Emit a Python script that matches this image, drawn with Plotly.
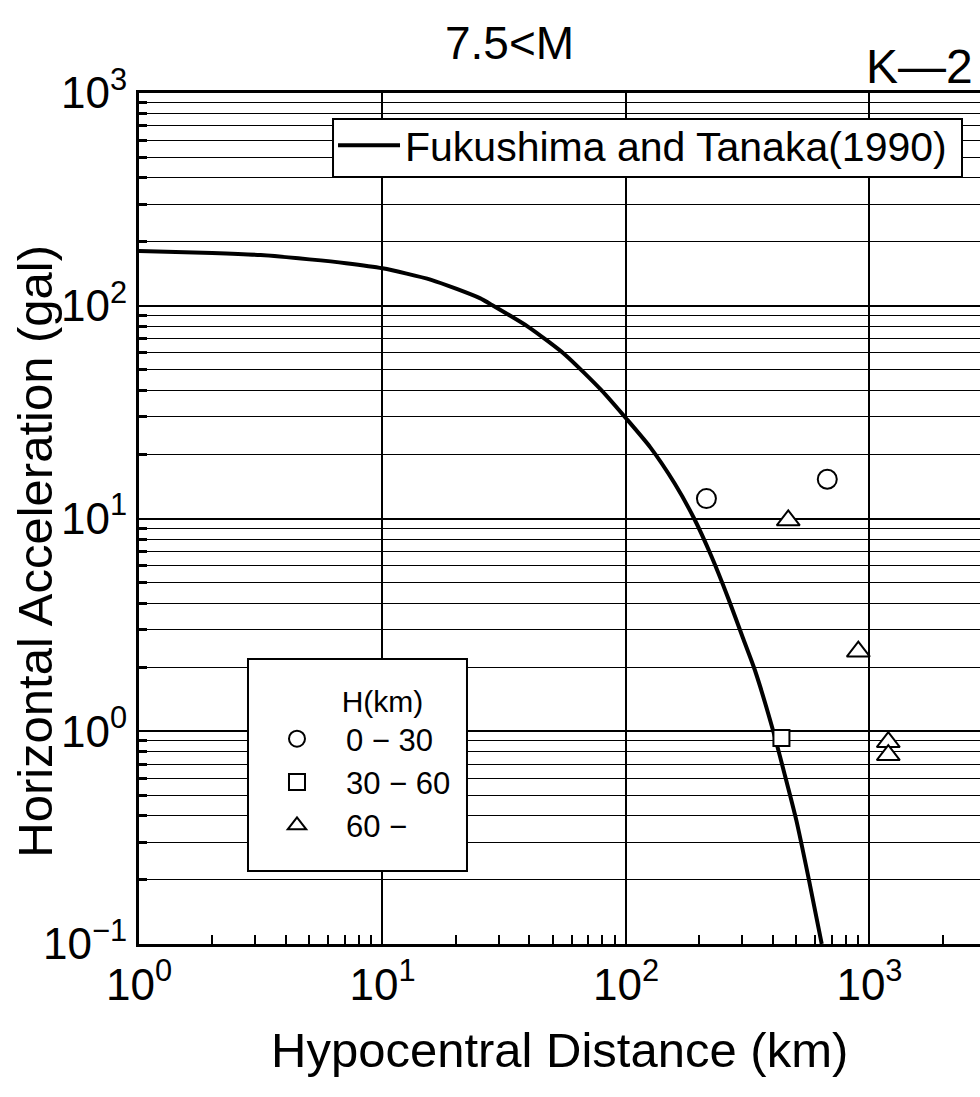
import plotly.graph_objects as go

# ---- data ----
curve_r = [1, 2, 3.16, 5.01, 7.08, 10, 15.85, 25.1, 28.5, 39.8, 56.2, 79.4, 100, 125.9,
           158.5, 190.5, 223.9, 263, 302, 338.8, 402.7, 446.7, 501.2, 562.3, 636.8]
curve_a = [181, 177, 173, 165.2, 158.5, 150, 132.4, 108.6, 100, 79.4, 58.9, 40, 29.6, 21.6,
           14.6, 10, 6.68, 4.22, 2.75, 1.93, 1, 0.638, 0.38, 0.204, 0.1]

circle_r = [214, 671]
circle_a = [12.4, 15.3]
square_r = [435]
square_a = [0.93]
tri_r = [464, 900, 1195, 1195]
tri_a = [9.8, 2.37, 0.89, 0.773]

y_tickvals = [0.1, 1, 10, 100, 1000]
y_ticktext = ["10<sup>−1</sup>", "10<sup>0</sup>", "10<sup>1</sup>", "10<sup>2</sup>", "10<sup>3</sup>"]
x_tickvals = [1, 10, 100, 1000]
x_ticktext = ["10<sup>0</sup>", "10<sup>1</sup>", "10<sup>2</sup>", "10<sup>3</sup>"]

curve_name = "Fukushima and Tanaka(1990)"
group_names = ["0 − 30", "30 − 60", "60 −"]
legend2_title = "H(km)"
title_text = "7.5&lt;M"
tag_text = "K—2"
xlabel = "Hypocentral Distance (km)"
ylabel = "Horizontal Acceleration (gal)"

FONT = "Liberation Sans, Arial, sans-serif"

y_minor = [m * 10 ** e for e in range(-1, 3) for m in range(2, 10)]
x_minor = [m * 10 ** e for e in range(0, 4) for m in range(2, 10) if m * 10 ** e < 2800]

fig = go.Figure()
fig.add_trace(go.Scatter(
    x=curve_r, y=curve_a, mode="lines", name=curve_name,
    line=dict(color="black", width=4, shape="spline", smoothing=0.6),
    legend="legend",
))
mk = dict(color="white", line=dict(color="black", width=2))
fig.add_trace(go.Scatter(x=circle_r, y=circle_a, mode="markers", name=group_names[0],
                         marker=dict(symbol="circle", size=19, **mk), legend="legend2"))
fig.add_trace(go.Scatter(x=square_r, y=square_a, mode="markers", name=group_names[1],
                         marker=dict(symbol="square", size=16, **mk), legend="legend2"))
fig.add_trace(go.Scatter(x=tri_r, y=tri_a, mode="markers", name=group_names[2],
                         marker=dict(symbol="triangle-up", size=20, **mk), legend="legend2"))

# legend frames (white boxes covering the grid; no data lies under them)
frame = dict(type="rect", xref="paper", yref="paper", layer="above",
             fillcolor="white", line=dict(color="black", width=2))
shapes = [
    dict(frame, x0=0.2307, x1=0.9786, y0=0.9013, y1=0.9694),
    dict(frame, x0=0.1296, x1=0.3900, y0=0.0858, y1=0.3349),
]

fig.update_layout(
    width=980, height=1097,
    margin=dict(l=139, r=0, t=93, b=153),
    paper_bgcolor="white", plot_bgcolor="white",
    font=dict(family=FONT, color="black"),
    showlegend=True,
    shapes=shapes,
    legend=dict(
        x=0.2307, y=0.9777, xanchor="left", yanchor="top",
        bgcolor="rgba(0,0,0,0)", borderwidth=0,
        font=dict(size=41, family=FONT), itemwidth=62,
    ),
    legend2=dict(
        x=0.1296, y=0.3184, xanchor="left", yanchor="top",
        bgcolor="rgba(0,0,0,0)", borderwidth=0,
        font=dict(size=31, family=FONT), itemwidth=88,
        title=dict(text="&nbsp;" * 11 + legend2_title, side="top", font=dict(size=30, family=FONT)),
    ),
    xaxis=dict(
        type="log", range=[0, 3.454],
        tickmode="array", tickvals=x_tickvals, ticktext=x_ticktext,
        tickfont=dict(size=44, family=FONT),
        showgrid=True, gridcolor="black", gridwidth=1.5,
        showline=True, linecolor="black", linewidth=3, mirror=True,
        ticks="", zeroline=False,
        minor=dict(tickmode="array", tickvals=x_minor, ticks="inside", ticklen=9,
                   tickwidth=2, tickcolor="black", showgrid=False),
    ),
    yaxis=dict(
        type="log", range=[-1, 3],
        tickmode="array", tickvals=y_tickvals, ticktext=y_ticktext,
        tickfont=dict(size=44, family=FONT),
        showgrid=True, gridcolor="black", gridwidth=2,
        showline=True, linecolor="black", linewidth=3, mirror=False,
        ticks="", zeroline=False,
        minor=dict(tickmode="array", tickvals=y_minor, ticks="inside", ticklen=8,
                   tickwidth=3, tickcolor="black", showgrid=True,
                   gridcolor="black", gridwidth=1.3),
    ),
    annotations=[
        dict(text=title_text, xref="paper", yref="paper", x=0.441, y=1.0588,
             xanchor="center", yanchor="middle", showarrow=False,
             font=dict(size=46, family=FONT)),
        dict(text=tag_text, xref="paper", yref="paper", x=0.994, y=1.0306,
             xanchor="right", yanchor="middle", showarrow=False,
             font=dict(size=48, family=FONT)),
        dict(text=xlabel, xref="paper", yref="paper", x=0.5, y=-0.1246,
             xanchor="center", yanchor="middle", showarrow=False,
             font=dict(size=49, family=FONT)),
        dict(text=ylabel, xref="paper", yref="paper", x=-0.124, y=0.4618,
             xanchor="center", yanchor="middle", showarrow=False, textangle=-90,
             font=dict(size=49, family=FONT)),
    ],
)

fig.write_html("out.html")
